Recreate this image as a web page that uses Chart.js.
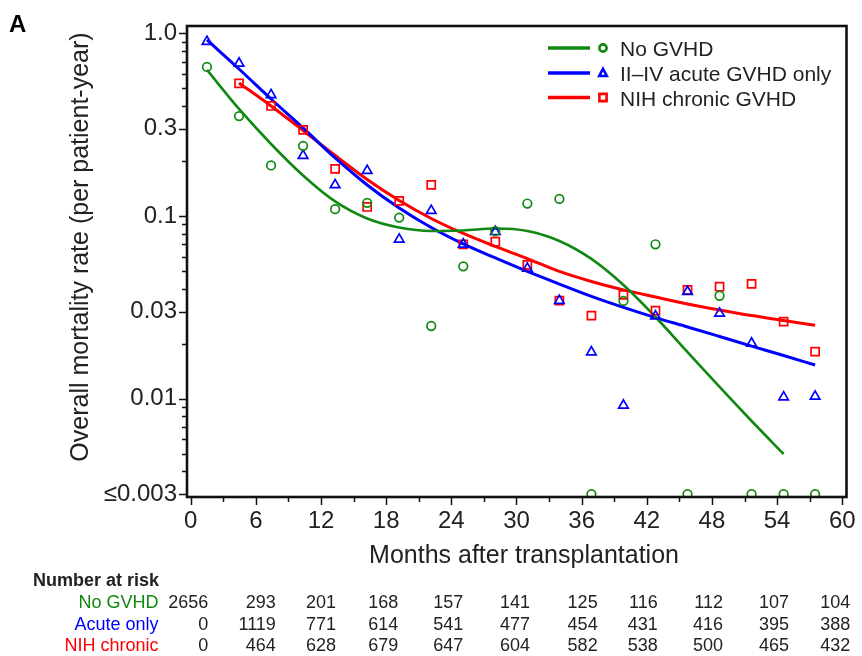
<!DOCTYPE html>
<html><head><meta charset="utf-8">
<script src="https://cdn.jsdelivr.net/npm/chart.js@4.4.1/dist/chart.umd.min.js"></script>
<style>html,body{margin:0;padding:0;background:#fff}#wrap{width:862px;height:656px;position:relative}</style>
</head><body><div id="wrap"><canvas id="c" width="862" height="656"></canvas></div>
<script>
// ---- data ----
const months = [1.5,4.45,7.4,10.35,13.3,16.25,19.2,22.15,25.1,28.05,31.0,33.95,36.9,39.85,42.8,45.75,48.7,51.65,54.6,57.5];
const noGvhdRates   = [0.654,0.352,0.189,0.242,0.109,0.118,0.098,0.025,0.053,0.0825,0.117,0.124,0.003,0.0343,0.070,0.003,0.0366,0.003,0.003,0.003];
const acuteRates    = [0.90,0.685,0.46,0.214,0.148,0.177,0.0745,0.107,0.070,0.082,0.0517,0.0344,0.0180,0.0092,0.0283,0.0385,0.0293,0.0201,0.0102,0.0103];
const chronicRates  = [null,0.532,0.40,0.296,0.181,0.112,0.121,0.148,0.070,0.0723,0.054,0.0344,0.0285,0.037,0.0303,0.0394,0.041,0.0425,0.0264,0.0181];

const fitMonthsNo      = [1.5,4.45,7.4,10.35,13.3,16.25,19.2,22.15,25.1,28.05,31.0,33.95,36.9,39.85,42.8,45.75,48.7,51.65,54.6];
const fitNoGvhd        = [0.630,0.3852,0.2478,0.1666,0.1201,0.0969,0.0865,0.0828,0.0833,0.0854,0.0828,0.0730,0.0582,0.0419,0.0280,0.0180,0.01159,0.00755,0.00498];
const fitMonthsAcute   = [1.5,4.45,7.4,10.35,13.3,16.25,19.2,22.15,25.1,28.05,31.0,33.95,36.9,39.85,42.8,45.75,48.7,51.65,54.6,57.5];
const fitAcute         = [0.9191,0.6375,0.4369,0.3032,0.2077,0.1478,0.1106,0.0865,0.0703,0.0589,0.0497,0.0424,0.0363,0.0316,0.0278,0.0247,0.0219,0.0194,0.01723,0.01529];
const fitMonthsChronic = [4.45,7.4,10.35,13.3,16.25,19.2,22.15,25.1,28.05,31.0,33.95,36.9,39.85,42.8,45.75,48.7,51.65,54.6,57.5];
const fitChronic       = [0.5346,0.4000,0.2938,0.2144,0.1584,0.1216,0.0969,0.0802,0.0681,0.0585,0.0497,0.0438,0.0394,0.0360,0.0330,0.0306,0.0285,0.0268,0.0252];

const xTickValues = [0,6,12,18,24,30,36,42,48,54,60];
const yTickValues = [1,0.3,0.1,0.03,0.01,0.003];
const yTickLabels = ['1.0','0.3','0.1','0.03','0.01','\u22640.003'];

const seriesNames = ['No GVHD','II\u2013IV acute GVHD only','NIH chronic GVHD'];
const riskLabels = ['No GVHD','Acute only','NIH chronic'];
const riskMonths = [0,6,12,18,24,30,36,42,48,54,60];
const riskNoGvhd  = [2656,293,201,168,157,141,125,116,112,107,104];
const riskAcute   = [0,1119,771,614,541,477,454,431,416,395,388];
const riskChronic = [0,464,628,679,647,604,582,538,500,465,432];

// ---- layout / styles ----
const FONT = '"Liberation Sans", Arial, Helvetica, sans-serif';
const TXT = '#222';
const GREEN = '#118811', BLUE = '#0000ff', RED = '#ff0000';
const COLORS = [GREEN, BLUE, RED];
const STYLES = ['circle','triangle','rect'];
const riskColumnShift = [17.5, 20, 15, 12, 12, 13.5, 16, 11, 11, 12, 8]; // right edge of each column relative to its month tick

const pts = (xs, ys) => xs.map((x,i)=>({x:x, y:ys[i]})).filter(p=>p.y!==null);

function markerDataset(data, color, style, radius){
  return {type:'line', data:data, showLine:false, pointStyle:style, pointRadius:radius,
    pointBorderWidth:1.7, pointBorderColor:color, pointBackgroundColor:'rgba(0,0,0,0)', order:1};
}
function fitDataset(data, color, w){
  return {type:'line', data:data, borderColor:color, borderWidth:w, pointRadius:0,
    cubicInterpolationMode:'monotone', fill:false, order:2};
}

function drawMarker(ctx, style, x, y, color){
  ctx.save(); ctx.strokeStyle = color; ctx.lineWidth = 2.6; ctx.beginPath();
  if (style==='circle'){ ctx.arc(x,y,3.6,0,Math.PI*2); }
  else if (style==='triangle'){ ctx.moveTo(x,y-4.2); ctx.lineTo(x+3.8,y+3); ctx.lineTo(x-3.8,y+3); ctx.closePath(); }
  else { ctx.rect(x-3.6,y-3.6,7.2,7.2); }
  ctx.stroke(); ctx.restore();
}

const decor = {
  id:'decor',
  afterDraw(chart){
    const ctx = chart.ctx, a = chart.chartArea, xs = chart.scales.x, ys = chart.scales.y;
    ctx.save();
    // ticks
    ctx.strokeStyle = '#111'; ctx.lineWidth = 1.5;
    for (let v=0; v<=60; v+=3){
      const px = Math.round(xs.getPixelForValue(v))+0.5, len = (v%6===0)?8:5;
      ctx.beginPath(); ctx.moveTo(px,a.bottom); ctx.lineTo(px,a.bottom+len); ctx.stroke();
    }
    [1,0.1,0.01,0.001].forEach(d=>{
      for (let k=1;k<=9;k++){
        const v = k*d; if (v<ys.min || v>ys.max) continue;
        const major = yTickValues.some(t=>Math.abs(t-v)<1e-9);
        const py = Math.round(ys.getPixelForValue(v))+0.5, len = major?8:5;
        ctx.beginPath(); ctx.moveTo(a.left,py); ctx.lineTo(a.left-len,py); ctx.stroke();
      }
    });
    // frame
    ctx.strokeStyle = '#111'; ctx.lineWidth = 2.6;
    ctx.strokeRect(a.left, a.top, a.right-a.left, a.bottom-a.top);
    // panel letter
    ctx.fillStyle = '#000'; ctx.font = 'bold 24px '+FONT; ctx.textAlign='left'; ctx.textBaseline='alphabetic';
    ctx.fillText('A', 9, 32);
    // axis titles
    ctx.fillStyle = TXT; ctx.font = '25px '+FONT; ctx.textAlign='center';
    ctx.fillText('Months after transplantation', 524, 563);
    ctx.save(); ctx.translate(88, 247); ctx.rotate(-Math.PI/2);
    ctx.fillText('Overall mortality rate (per patient-year)', 0, 0); ctx.restore();
    // legend
    const rows = [48, 73, 97.5];
    seriesNames.forEach((n,i)=>{
      ctx.strokeStyle = COLORS[i]; ctx.lineWidth = 3.5;
      ctx.beginPath(); ctx.moveTo(548, rows[i]); ctx.lineTo(590, rows[i]); ctx.stroke();
      drawMarker(ctx, STYLES[i], 603, rows[i], COLORS[i]);
      ctx.fillStyle = TXT; ctx.font = '21px '+FONT; ctx.textAlign='left'; ctx.textBaseline='middle';
      ctx.fillText(n, 620, rows[i]+2.5);
    });
    // number at risk table
    ctx.textBaseline='middle';
    ctx.fillStyle = TXT; ctx.font = 'bold 18px '+FONT; ctx.textAlign='left';
    ctx.fillText('Number at risk', 33, 581);
    const tableRows = [riskNoGvhd, riskAcute, riskChronic];
    const rowY = [603.5, 625, 646];
    ctx.font = '18px '+FONT;
    tableRows.forEach((vals,r)=>{
      ctx.textAlign='right'; ctx.fillStyle = COLORS[r];
      ctx.fillText(riskLabels[r], 158.5, rowY[r]);
      ctx.fillStyle = TXT;
      vals.forEach((v,j)=>{
        const px = xs.getPixelForValue(riskMonths[j]) + riskColumnShift[j];
        ctx.fillText(String(v), px, rowY[r]);
      });
    });
    ctx.restore();
  }
};

new Chart(document.getElementById('c'), {
  type:'line',
  data:{ datasets:[
    markerDataset(pts(months, noGvhdRates), GREEN, 'circle', 4.3),
    markerDataset(pts(months, acuteRates), BLUE, 'triangle', 5.5),
    markerDataset(pts(months, chronicRates), RED, 'rect', 5.7),
    fitDataset(pts(fitMonthsNo, fitNoGvhd), GREEN, 2.6),
    fitDataset(pts(fitMonthsAcute, fitAcute), BLUE, 3),
    fitDataset(pts(fitMonthsChronic, fitChronic), RED, 3)
  ]},
  options:{
    responsive:false, animation:false, devicePixelRatio:1,
    layout:{padding:{left:0, top:26, right:15.5, bottom:0}},
    plugins:{legend:{display:false}, tooltip:{enabled:false}},
    scales:{
      x:{type:'linear', min:-0.34, max:60.39, bounds:'data',
        afterBuildTicks:s=>{ s.ticks = xTickValues.map(v=>({value:v})); },
        afterFit:s=>{ s.height = 159; s.paddingLeft = 0; s.paddingRight = 0; },
        grid:{display:false, drawTicks:false}, border:{display:false},
        ticks:{font:{family:FONT, size:24}, color:TXT, padding:10, maxRotation:0, autoSkip:false,
          callback:(v)=>String(v)}},
      y:{type:'logarithmic', min:0.002897, max:1.096, bounds:'data',
        afterBuildTicks:s=>{ s.ticks = yTickValues.map(v=>({value:v})); },
        afterFit:s=>{ s.width = 187; s.paddingTop = 0; s.paddingBottom = 0; },
        grid:{display:false, drawTicks:false}, border:{display:false},
        ticks:{font:{family:FONT, size:24}, color:TXT, padding:10, autoSkip:false,
          callback:(v,i)=>yTickLabels[i]}}
    }
  },
  plugins:[decor]
});
</script></body></html>
